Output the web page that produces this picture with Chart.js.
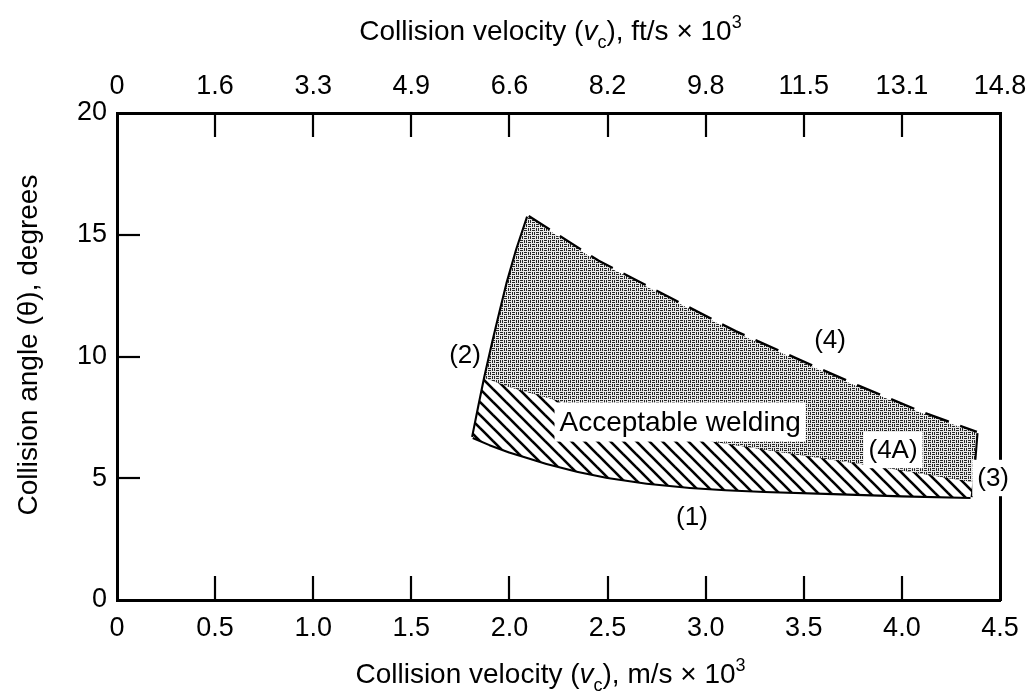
<!DOCTYPE html>
<html>
<head>
<meta charset="utf-8">
<script src="https://cdn.jsdelivr.net/npm/chart.js@4.4.0/dist/chart.umd.min.js"></script>
<style>
  html, body { margin: 0; padding: 0; background: #fff; }
  #wrap { width: 1026px; height: 694px; }
</style>
</head>
<body>
<div id="wrap"><canvas id="weldChart" width="1026" height="694"></canvas></div>
<script>
Chart.defaults.devicePixelRatio = 1;
const FAMILY = "'Liberation Sans', Arial, Helvetica, sans-serif";
Chart.defaults.font.family = FAMILY;
Chart.defaults.color = "#000";

// axis ticks
const velTicks = [0, 0.5, 1.0, 1.5, 2.0, 2.5, 3.0, 3.5, 4.0, 4.5];   // m/s x 10^3
const velFtLabels = ["0", "1.6", "3.3", "4.9", "6.6", "8.2", "9.8", "11.5", "13.1", "14.8"];
const angleTicks = [0, 5, 10, 15, 20];

// limit curves (x = m/s x 10^3, y = degrees)
const curve1 = [ // lower limit (1)
    { x: 1.815, y: 6.69 }, { x: 1.9, y: 6.4 }, { x: 2.0, y: 6.1 }, { x: 2.1, y: 5.85 },
    { x: 2.19, y: 5.63 }, { x: 2.35, y: 5.3 }, { x: 2.5, y: 5.05 }, { x: 2.7, y: 4.82 },
    { x: 2.92, y: 4.64 }, { x: 3.1, y: 4.55 }, { x: 3.3, y: 4.48 }, { x: 3.65, y: 4.39 },
    { x: 4.0, y: 4.3 }, { x: 4.35, y: 4.23 }
];
const curve2 = [ // left limit (2), bottom to top
    { x: 1.815, y: 6.69 }, { x: 1.845, y: 7.9 }, { x: 1.876, y: 9.12 }, { x: 1.92, y: 10.68 },
    { x: 1.955, y: 11.85 }, { x: 1.99, y: 13.0 }, { x: 2.04, y: 14.4 }, { x: 2.095, y: 15.73 }
];
const curve3 = [ // right limit (3)
    { x: 4.38, y: 6.86 }, { x: 4.36, y: 4.85 }, { x: 4.35, y: 4.23 }
];
const curve4 = [ // upper limit (4)
    { x: 2.095, y: 15.73 }, { x: 2.45, y: 13.9 }, { x: 2.83, y: 12.32 }, { x: 3.15, y: 11.0 },
    { x: 3.466, y: 9.86 }, { x: 3.78, y: 8.75 }, { x: 4.10, y: 7.68 }, { x: 4.38, y: 6.86 }
];
const curve4A = [ // limit (4A)
    { x: 1.876, y: 9.12 }, { x: 2.0, y: 8.75 }, { x: 2.2, y: 8.3 }, { x: 2.6, y: 7.35 },
    { x: 3.04, y: 6.5 }, { x: 3.48, y: 5.95 }, { x: 3.9, y: 5.45 }, { x: 4.36, y: 4.85 }
];

const notes = [
    { text: "(1)", x: 2.93, y: 3.41, size: 26, box: false },
    { text: "(2)", x: 1.774, y: 10.06, size: 26, box: false },
    { text: "(3)", x: 4.465, y: 5.01, size: 26, box: true },
    { text: "(4)", x: 3.634, y: 10.68, size: 26, box: false },
    { text: "(4A)", x: 3.955, y: 6.16, size: 26, box: true },
    { text: "Acceptable welding", x: 2.87, y: 7.31, size: 28, box: true }
];

// closed outlines of the two shaded zones
const joinIdx = curve2.findIndex(p => p.x === curve4A[0].x && p.y === curve4A[0].y);
const upperZone = [
    ...curve4,
    curve3[1],
    ...curve4A.slice().reverse(),
    ...curve2.slice(joinIdx + 1)
];
const lowerZone = [
    ...curve4A,
    curve3[2],
    ...curve1.slice().reverse(),
    ...curve2.slice(1, joinIdx + 1)
];

// fill textures
function weavePattern() {
    const c = document.createElement("canvas");
    c.width = c.height = 8;
    const g = c.getContext("2d");
    g.fillStyle = "#e8e8e8";
    g.fillRect(0, 0, 8, 8);
    g.fillStyle = "#262626";
    for (let y = 0; y < 8; y++) {
        for (let x = 0; x < 8; x++) {
            const horiz = ((x >> 2) + (y >> 2)) % 2 === 0;
            const on = horiz ? (y % 2 === 0 && x % 4 !== 3) : (x % 2 === 0 && y % 4 !== 3);
            if (on) g.fillRect(x, y, 1, 1);
        }
    }
    return g.createPattern(c, "repeat");
}

function hatchPattern() {
    const s = 13;
    const c = document.createElement("canvas");
    c.width = c.height = s;
    const g = c.getContext("2d");
    g.fillStyle = "#fff";
    g.fillRect(0, 0, s, s);
    g.strokeStyle = "#000";
    g.lineWidth = 2.6;
    for (let k = -1; k <= 1; k++) {
        g.beginPath();
        g.moveTo(-1, k * s - 1);
        g.lineTo(s + 1, s + k * s + 1);
        g.stroke();
    }
    return g.createPattern(c, "repeat");
}

function drawRich(ctx, parts, size) {
    const fontFor = p => (p.italic ? "italic " : "") + Math.round(p.sub || p.sup ? size * 0.66 : size) + "px " + FAMILY;
    let w = 0;
    parts.forEach(p => { ctx.font = fontFor(p); w += ctx.measureText(p.t).width; });
    let xx = -w / 2;
    ctx.textAlign = "left";
    ctx.textBaseline = "alphabetic";
    parts.forEach(p => {
        ctx.font = fontFor(p);
        const dy = p.sub ? size * 0.3 : p.sup ? -size * 0.42 : 0;
        ctx.fillText(p.t, xx, dy);
        xx += ctx.measureText(p.t).width;
    });
}

const velTitle = unit => [
    { t: "Collision velocity (" }, { t: "v", italic: true }, { t: "c", sub: true },
    { t: "), " + unit + " \u00d7 10" }, { t: "3", sup: true }
];

const decor = {
    id: "decor",
    afterDatasetsDraw(chart) {
        const { ctx, chartArea: a, scales } = chart;
        const sx = scales.x, sy = scales.y;
        ctx.save();
        // inward tick marks
        ctx.strokeStyle = "#000";
        ctx.lineWidth = 2.2;
        const seg = (x1, y1, x2, y2) => { ctx.beginPath(); ctx.moveTo(x1, y1); ctx.lineTo(x2, y2); ctx.stroke(); };
        velTicks.slice(1, -1).forEach(v => {
            const px = Math.round(sx.getPixelForValue(v));
            seg(px, a.bottom, px, a.bottom - 24);
            seg(px, a.top, px, a.top + 24);
        });
        angleTicks.slice(1, -1).forEach(v => {
            const py = Math.round(sy.getPixelForValue(v));
            seg(a.left, py, a.left + 23, py);
        });
        // region labels
        ctx.textAlign = "center";
        ctx.textBaseline = "middle";
        notes.forEach(n => {
            ctx.font = n.size + "px " + FAMILY;
            const px = sx.getPixelForValue(n.x), py = sy.getPixelForValue(n.y);
            if (n.box) {
                const w = ctx.measureText(n.text).width;
                ctx.fillStyle = "#fff";
                ctx.fillRect(px - w / 2 - 5, py - n.size * 0.7, w + 10, n.size * 1.4);
            }
            ctx.fillStyle = "#000";
            ctx.fillText(n.text, px, py + 1);
        });
        ctx.restore();
    },
    afterDraw(chart) {
        const { ctx, chartArea: a } = chart;
        const cx = (a.left + a.right) / 2;
        ctx.save();
        ctx.fillStyle = "#000";
        ctx.translate(cx - 8, 40);
        drawRich(ctx, velTitle("ft/s"), 28);
        ctx.restore();
        ctx.save();
        ctx.fillStyle = "#000";
        ctx.translate(cx - 8, 683);
        drawRich(ctx, velTitle("m/s"), 28);
        ctx.restore();
        ctx.save();
        ctx.fillStyle = "#000";
        ctx.translate(37, 345);
        ctx.rotate(-Math.PI / 2);
        drawRich(ctx, [{ t: "Collision angle (\u03b8), degrees" }], 28);
        ctx.restore();
    }
};

const zone = (data, bg) => ({
    data: data, showLine: true, fill: "shape", backgroundColor: bg,
    borderWidth: 0, pointRadius: 0, tension: 0
});
const edge = (data, width, dash) => ({
    data: data, showLine: true, fill: false, borderColor: "#000",
    borderWidth: width, borderDash: dash || [], pointRadius: 0, tension: 0,
    borderCapStyle: "butt", borderJoinStyle: "round"
});

const ticksFont = { size: 27 };
const hiddenGrid = { drawOnChartArea: false, drawTicks: false };
const frame = { display: true, color: "#000", width: 3 };

new Chart(document.getElementById("weldChart").getContext("2d"), {
    type: "scatter",
    data: {
        datasets: [
            zone(upperZone, weavePattern()),
            zone(lowerZone, hatchPattern()),
            edge(curve4A, 3.2),
            edge(curve1, 4.2),
            edge(curve2, 4.2),
            edge(curve3, 4.2),
            edge(curve4, 4.6, [25, 12])
        ]
    },
    options: {
        responsive: false,
        animation: false,
        layout: { padding: 0 },
        plugins: { legend: { display: false }, tooltip: { enabled: false } },
        scales: {
            x: {
                type: "linear", position: "bottom", min: 0, max: 4.5,
                afterBuildTicks: s => { s.ticks = velTicks.map(v => ({ value: v })); },
                afterFit: s => { s.height = 94; s.paddingLeft = 0; s.paddingRight = 0; },
                ticks: { font: ticksFont, color: "#000", padding: 12, maxRotation: 0,
                    callback: v => (v === 0 ? "0" : v.toFixed(1)) },
                grid: hiddenGrid, border: frame
            },
            x2: {
                type: "linear", position: "top", min: 0, max: 4.5,
                afterBuildTicks: s => { s.ticks = velTicks.map(v => ({ value: v })); },
                afterFit: s => { s.height = 113; s.paddingLeft = 0; s.paddingRight = 0; },
                ticks: { font: ticksFont, color: "#000", padding: 10, maxRotation: 0,
                    callback: (v, i) => velFtLabels[i] },
                grid: hiddenGrid, border: frame
            },
            y: {
                type: "linear", position: "left", min: 0, max: 20,
                afterBuildTicks: s => { s.ticks = angleTicks.map(v => ({ value: v })); },
                afterFit: s => { s.width = 117; s.paddingTop = 0; s.paddingBottom = 0; },
                ticks: { font: ticksFont, color: "#000", padding: 10 },
                grid: hiddenGrid, border: frame
            },
            y2: {
                type: "linear", position: "right", min: 0, max: 20,
                afterFit: s => { s.width = 26; s.paddingTop = 0; s.paddingBottom = 0; },
                ticks: { display: false },
                grid: hiddenGrid, border: frame
            }
        }
    },
    plugins: [decor]
});
</script>
</body>
</html>
